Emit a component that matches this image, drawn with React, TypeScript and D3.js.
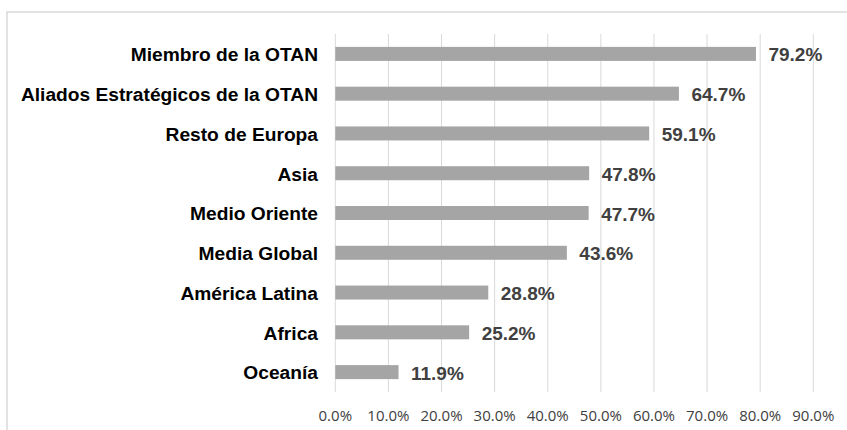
import React from "react";
import * as d3 from "d3";

const categories = [
  "Miembro de la OTAN",
  "Aliados Estratégicos de la OTAN",
  "Resto de Europa",
  "Asia",
  "Medio Oriente",
  "Media Global",
  "América Latina",
  "Africa",
  "Oceanía",
];
const values = [79.2, 64.7, 59.1, 47.8, 47.7, 43.6, 28.8, 25.2, 11.9];
const ticks = [0, 10, 20, 30, 40, 50, 60, 70, 80, 90];

const W = 847;
const H = 430;
const X0 = 335.3;
const X1 = 813.3;
const Y0 = 34;
const Y1 = 392;

export default function App() {
  const x = d3.scaleLinear().domain([0, 90]).range([X0, X1]);
  const y = d3
    .scaleBand<string>()
    .domain(categories)
    .range([Y0, Y1])
    .paddingInner(0.648)
    .paddingOuter(0.324);
  const fmt = (v: number) => v.toFixed(1) + "%";
  return (
    <svg
      width={W}
      height={H}
      style={{ position: "absolute", left: 0, top: 0, background: "#fff" }}
    >
      <rect x={0} y={0} width={W} height={H} fill="#fff" />
      <rect
        x={7}
        y={12}
        width={W + 20}
        height={H + 20}
        fill="none"
        stroke="#d9d9d9"
        strokeWidth={1.5}
      />
      {ticks.map((t) => (
        <line
          key={"g" + t}
          x1={x(t)}
          x2={x(t)}
          y1={Y0}
          y2={Y1}
          stroke="#d9d9d9"
          strokeWidth={1}
        />
      ))}
      {categories.map((c, i) => {
        const by = y(c)!;
        const cy = by + y.bandwidth() / 2;
        return (
          <g key={c}>
            <rect
              x={x(0)}
              y={by}
              width={x(values[i]) - x(0)}
              height={y.bandwidth()}
              fill="#a5a5a5"
            />
            <text
              x={318}
              y={cy + 7.3}
              textAnchor="end"
              fontFamily="'Liberation Sans', Arial, sans-serif"
              fontWeight="bold"
              fontSize={19.2}
              fill="#000"
            >
              {c}
            </text>
            <text
              x={x(values[i]) + 12.5}
              y={cy + 7.5}
              fontFamily="'Liberation Sans', Arial, sans-serif"
              fontWeight="bold"
              fontSize={19}
              fill="#404040"
            >
              {fmt(values[i])}
            </text>
          </g>
        );
      })}
      {ticks.map((t) => (
        <text
          key={"t" + t}
          x={x(t)}
          y={421}
          textAnchor="middle"
          fontFamily="'Open Sans', sans-serif"
          fontSize={15}
          fill="#404040"
        >
          {fmt(t)}
        </text>
      ))}
    </svg>
  );
}
